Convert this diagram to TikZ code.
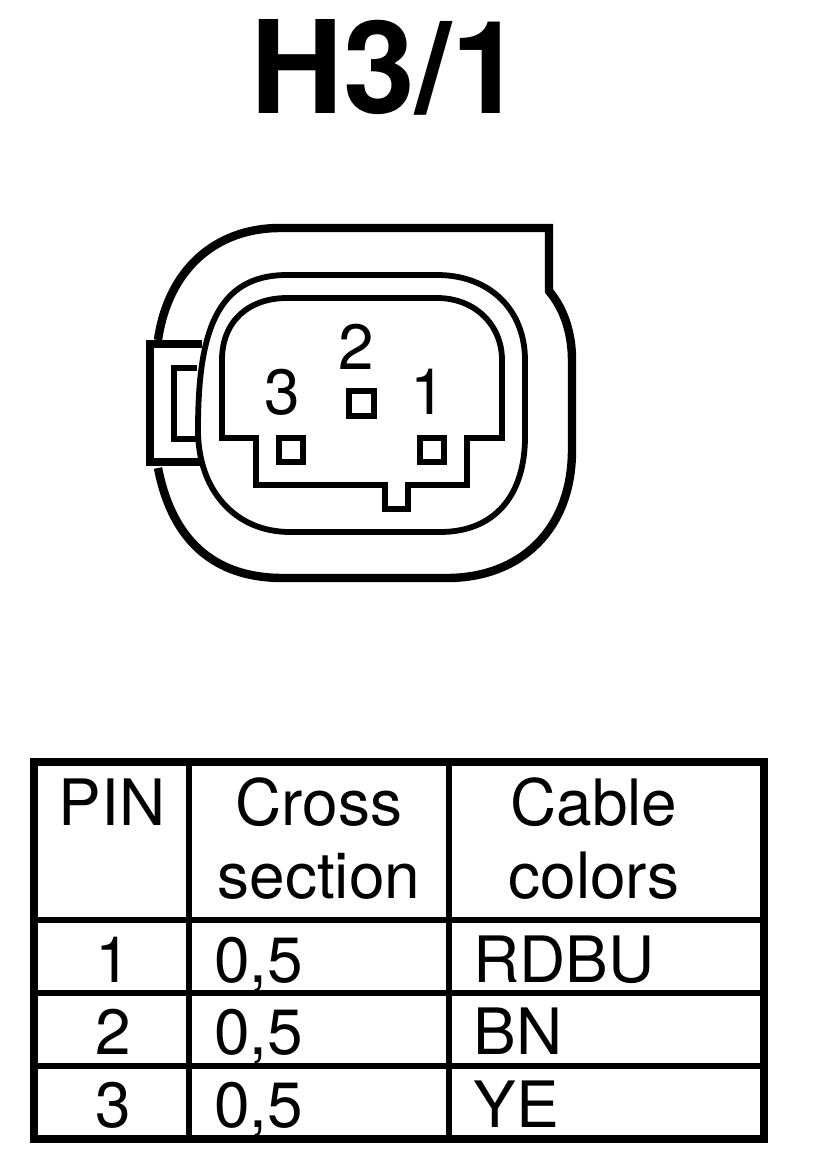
\documentclass[tikz,border=0pt]{standalone}
\usepackage{fontspec}
\setmainfont{TeX Gyre Heros}
\begin{document}
\begin{tikzpicture}[x=0.02cm, y=-0.02cm, line join=miter,
    shell/.style={line width=4.8pt},
    ring/.style={line width=3.3pt},
    pinbox/.style={line width=3.8pt},
    tabline/.style={line width=4.6pt},
    grid/.style={line width=3.6pt},
    frame/.style={line width=4.8pt},
    cell/.style={inner sep=0pt, anchor=base, font=\fontsize{36.4}{36.4}\selectfont},
    leftcell/.style={cell, anchor=base west},
    pinno/.style={inner sep=0pt, anchor=base, font=\fontsize{36.4}{36.4}\selectfont}]
    \useasboundingbox (0,0) rectangle (816,1164);
    \node[inner sep=0pt, anchor=base, font=\fontsize{73.4}{73.4}\bfseries\selectfont] (title) at (387,113) {H3/1};
    \draw[shell] (158,340) .. controls (168,270) and (215,228) .. (280,228) -- (549,228) -- (549,291)
        .. controls (565,310) and (572,335) .. (572,360) -- (572,450)
        .. controls (572,530) and (520,578) .. (447,578) -- (283,578)
        .. controls (205,578) and (170,530) .. (158,468);
    \draw[ring] (287,275) -- (437,275) .. controls (490,275) and (525,310) .. (525,360) -- (525,437)
        .. controls (525,495) and (495,532) .. (440,532) -- (290,532)
        .. controls (235,532) and (198,490) .. (198,430) .. controls (198,335) and (215,275) .. (287,275) -- cycle;
    \draw[ring] (222,438) -- (256,438) -- (256,485) -- (385,485) -- (385,509) -- (408,509) -- (408,485)
        -- (467,485) -- (467,438) -- (502,438) -- (502,360) .. controls (502,325) and (475,298) .. (437,298)
        -- (287,298) .. controls (250,298) and (222,320) .. (222,360) -- cycle;
    \draw[tabline] (202,344) -- (150,344) -- (150,462) -- (201,462);
    \draw[ring] (197,368) -- (174,368) -- (174,439) -- (197,439);
    \draw[pinbox] (349,391) rectangle (374,416);
    \draw[pinbox] (279,438) rectangle (303,462);
    \draw[pinbox] (420,438) rectangle (444,462);
    \node[pinno] (labeltwo) at (356,369) {2};
    \node[pinno] (labelthree) at (282,414) {3};
    \node[pinno] (labelone) at (428,414) {1};
    \draw[frame] (34,762) rectangle (764,1139);
    \draw[grid] (189,762) -- (189,1139);
    \draw[grid] (449,762) -- (449,1139);
    \draw[grid] (34,920) -- (764,920);
    \draw[grid] (34,993) -- (764,993);
    \draw[grid] (34,1066) -- (764,1066);
    \node[cell] (headpin) at (112,825) {PIN};
    \node[cell] (headcross) at (319,825) {Cross};
    \node[cell] (headsection) at (319,898) {section};
    \node[cell] (headcable) at (594,825) {Cable};
    \node[cell] (headcolors) at (594,898) {colors};
    \node[cell] (pinone) at (113,982) {1};
    \node[cell] (pintwo) at (113,1054) {2};
    \node[cell] (pinthree) at (113,1127) {3};
    \node[leftcell] (crossone) at (214,982) {0,5};
    \node[leftcell] (crosstwo) at (214,1054) {0,5};
    \node[leftcell] (crossthree) at (214,1127) {0,5};
    \node[leftcell] (colorone) at (473,982) {RDBU};
    \node[leftcell] (colortwo) at (473,1054) {BN};
    \node[leftcell] (colorthree) at (473,1127) {YE};
\end{tikzpicture}
\end{document}
